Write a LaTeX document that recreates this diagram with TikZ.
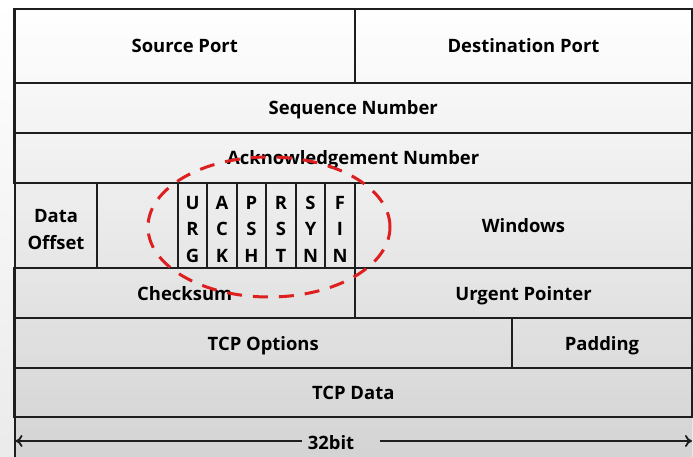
\documentclass[tikz,border=0pt]{standalone}
\usepackage{fontspec}
\setmainfont{Open Sans}
\usetikzlibrary{arrows.meta}
\definecolor{rule}{HTML}{1E1E1E}
\definecolor{mark}{HTML}{DD1F1F}
% stacked label, lowered slightly inside its box
\newcommand{\stackit}[1]{\raisebox{-9.5bp}[0pt][0pt]{\begin{tabular}{@{}c@{}}#1\end{tabular}}}
\tikzset{
  box/.style={draw=rule, line width=2bp, inner sep=0pt,
    font=\fontsize{18.5}{26.5}\selectfont\bfseries, align=center},
  cell/.style={box, text depth=0pt},
  flagbox/.style={box, minimum width=29.5bp, minimum height=85bp},
  ring/.style={draw=mark, line width=3bp, dash pattern=on 15bp off 11bp},
  span/.style={draw=rule, line width=1.8bp, -{To[length=7bp, width=12bp]}}
}
\begin{document}
\begin{tikzpicture}[x=1bp, y=-1bp]
  \useasboundingbox (0,0) rectangle (693,457);
  % backdrop: page and gradient inside the header box
  \shade[top color=white, bottom color=black!8] (0,0) rectangle (693,457);
  \shade[top color=white, bottom color=black!17] (14.5,9) rectangle (692,457);
  \draw[rule, line width=2bp] (14.5,9) -- (14.5,457);

  % row 1
  \node[cell, minimum width=340.5bp, minimum height=74bp] (src) at (184.75,46) {Source Port};
  \node[cell, minimum width=337bp, minimum height=74bp] (dst) at (523.5,46) {Destination Port};
  % rows 2 and 3
  \node[cell, minimum width=677.5bp, minimum height=50bp] (seq) at (353.25,108) {Sequence Number};
  \node[cell, minimum width=677.5bp, minimum height=50bp] (ack) at (353.25,158) {Acknowledgement Number};
  % row 4
  \node[box, minimum width=82.5bp, minimum height=85bp] (off) at (56,225.5) {\stackit{Data\\Offset}};
  \node[box, minimum width=80.5bp, minimum height=85bp] (rsv) at (137.5,225.5) {};
  \node[flagbox] (urg) at (192.5,225.5) {\stackit{U\\R\\G}};
  \node[flagbox] (ackf) at (222,225.5) {\stackit{A\\C\\K}};
  \node[flagbox] (psh) at (251.5,225.5) {\stackit{P\\S\\H}};
  \node[flagbox] (rst) at (281,225.5) {\stackit{R\\S\\T}};
  \node[flagbox] (syn) at (310.5,225.5) {\stackit{S\\Y\\N}};
  \node[flagbox] (fin) at (340,225.5) {\stackit{F\\I\\N}};
  \node[cell, minimum width=337bp, minimum height=85bp] (win) at (523.5,225.5) {Windows};
  % row 5
  \node[cell, minimum width=340.5bp, minimum height=50bp] (chk) at (184.75,293) {Checksum};
  \node[cell, minimum width=337bp, minimum height=50bp] (urp) at (523.5,293) {Urgent Pointer};
  % row 6
  \node[cell, minimum width=497.5bp, minimum height=50bp] (opt) at (263.25,343) {TCP Options};
  \node[cell, minimum width=180bp, minimum height=50bp] (pad) at (602,343) {Padding};
  % row 7
  \node[cell, minimum width=677.5bp, minimum height=49bp] (data) at (353.25,392.5) {TCP Data};

  % width marker
  \node[font=\fontsize{18.5}{20}\selectfont\bfseries, inner sep=0pt, text depth=0pt] (bits) at (331,442) {32bit};
  \coordinate (lend) at (15.5,441);
  \coordinate (rend) at (692,441);
  \draw[span] ([xshift=-6bp]bits.west |- lend) -- (lend);
  \draw[span] ([xshift=26bp]bits.east |- rend) -- (rend);

  % highlight around the flag bits
  \draw[ring] (269,227) ellipse [x radius=121bp, y radius=70bp];
\end{tikzpicture}
\end{document}
